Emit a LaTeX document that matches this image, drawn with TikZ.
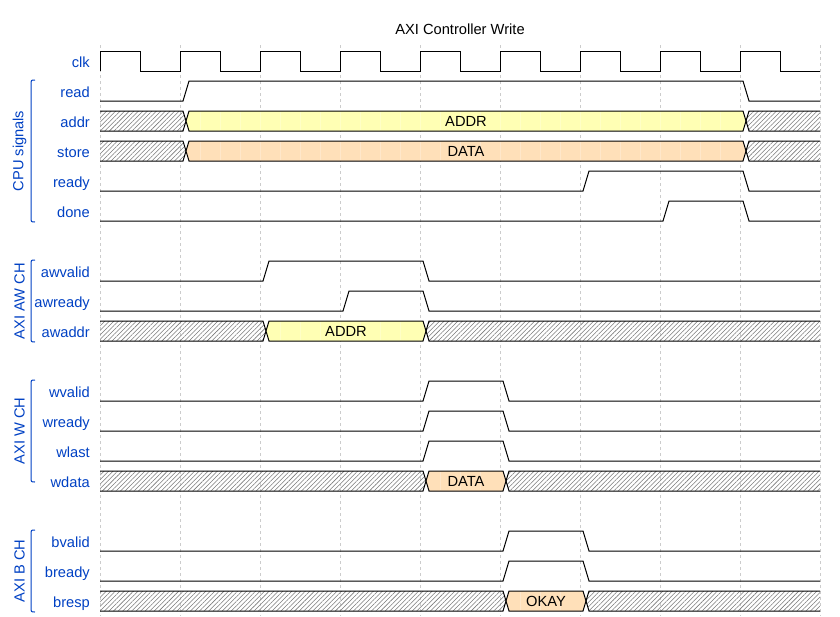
\documentclass[tikz,border=0pt]{standalone}
\usepackage{fontspec}
\setmainfont{Liberation Sans}
\usetikzlibrary{patterns.meta}
\definecolor{lbl}{HTML}{0041C4}
\definecolor{dyel}{HTML}{FFFFB4}
\definecolor{dora}{HTML}{FFE0B9}
\definecolor{gridc}{HTML}{CCCCCC}
\definecolor{hatchc}{HTML}{7A7A7A}
\tikzset{
  sig/.style={line width=1pt},
  lab/.style={anchor=base east, text=lbl, inner sep=0pt},
  grplab/.style={text=lbl, rotate=90, inner sep=0pt},
  brk/.style={draw=lbl, line width=1pt},
  gridl/.style={draw=gridc, dash pattern=on 3pt off 3pt, line width=0.8pt},
  hatchbus/.style={pattern={Lines[angle=45,distance=3.2pt,line width=0.55pt]}, pattern color=hatchc},
  dtxt/.style={anchor=base, inner sep=0pt},
  seam/.style={draw=white, opacity=0.25, line width=0.8pt}
}
% bus row: #1 top y, #2 start edge, #3 end edge, #4 fill colour, #5 text, #6 node name
\newcommand\busrow[6]{%
  \begin{scope}[shift={(0,#1)}]
    \pgfmathsetmacro\bxa{#2+3}\pgfmathsetmacro\bxb{#2+6}\pgfmathsetmacro\bxc{#2+9}%
    \pgfmathsetmacro\bya{#3+3}\pgfmathsetmacro\byb{#3+6}\pgfmathsetmacro\byc{#3+9}%
    \pgfmathsetmacro\bsa{#2+20}\pgfmathsetmacro\bsb{#2+40}\pgfmathsetmacro\bse{#3-20}%
    \pgfmathsetmacro\bmid{(#2+#3)/2+6}%
    \fill[hatchbus] (100,0) -- (\bxa,0) -- (\bxb,10) -- (\bxa,20) -- (100,20) -- cycle;
    \draw[sig] (100,0) -- (\bxa,0) -- (\bxb,10) -- (\bxa,20) -- (100,20);
    \fill[#4] (\bxc,0) -- (\bya,0) -- (\byb,10) -- (\bya,20) -- (\bxc,20) -- (\bxb,10) -- cycle;
    \foreach \sx in {\bsa,\bsb,...,\bse} { \draw[seam] (\sx,1) -- (\sx,19); }
    \draw[sig] (\bxc,0) -- (\bya,0) -- (\byb,10) -- (\bya,20) -- (\bxc,20) -- (\bxb,10) -- cycle;
    \fill[hatchbus] (820,0) -- (\byc,0) -- (\byb,10) -- (\byc,20) -- (820,20) -- cycle;
    \draw[sig] (820,0) -- (\byc,0) -- (\byb,10) -- (\byc,20) -- (820,20);
    \node[dtxt] (#6) at (\bmid,15.5) {#5};
  \end{scope}}
% pulse row: #1 top y, #2 rise edge, #3 fall edge
\newcommand\pulserow[3]{%
  \begin{scope}[shift={(0,#1)}]
    \pgfmathsetmacro\pra{#2+3}\pgfmathsetmacro\prb{#2+9}%
    \pgfmathsetmacro\pfa{#3+3}\pgfmathsetmacro\pfb{#3+9}%
    \draw[sig] (100,20) -- (\pra,20) -- (\prb,0) -- (\pfa,0) -- (\pfb,20) -- (820,20);
  \end{scope}}
% group bracket: #1 top, #2 bottom, #3 text, #4 name
\newcommand\grpbrk[4]{%
  \pgfmathsetmacro\gta{#1+5}\pgfmathsetmacro\gba{#2-5}\pgfmathsetmacro\gmid{(#1+#2)/2}%
  \draw[brk] (35,#1) .. controls (31,#1) .. (31,\gta) -- (31,\gba) .. controls (31,#2) .. (35,#2);
  \node[grplab] (#4) at (19.5,\gmid) {#3};}

\begin{document}
\begin{tikzpicture}[x=1pt,y=-1pt,font=\fontsize{14.67}{17}\selectfont]
\useasboundingbox (0,0) rectangle (840,616);
\fill[white] (0,0) rectangle (840,616);

% grid
\foreach \gx in {100,180,...,820} { \draw[gridl] (\gx,45) -- (\gx,616); }

% title
\node[dtxt] (title) at (460,34.5) {AXI Controller Write};

% labels
\node[lab] (lclk) at (90,67) {clk};
\node[lab] (lread) at (90,97) {read};
\node[lab] (laddr) at (90,127) {addr};
\node[lab] (lstore) at (90,157) {store};
\node[lab] (lready) at (90,187) {ready};
\node[lab] (ldone) at (90,217) {done};
\node[lab] (lawvalid) at (90,277) {awvalid};
\node[lab] (lawready) at (90,307) {awready};
\node[lab] (lawaddr) at (90,337) {awaddr};
\node[lab] (lwvalid) at (90,397) {wvalid};
\node[lab] (lwready) at (90,427) {wready};
\node[lab] (lwlast) at (90,457) {wlast};
\node[lab] (lwdata) at (90,487) {wdata};
\node[lab] (lbvalid) at (90,547) {bvalid};
\node[lab] (lbready) at (90,577) {bready};
\node[lab] (lbresp) at (90,607) {bresp};

% group brackets
\grpbrk{80}{222}{CPU signals}{gcpu}
\grpbrk{260}{342}{AXI AW CH}{gaw}
\grpbrk{380}{482}{AXI W CH}{gw}
\grpbrk{530}{612}{AXI B CH}{gb}

% clk
\draw[sig] (100,71) foreach \k in {0,...,8} { -- ++(0,-20) -- ++(40,0) -- ++(0,20) -- ++(40,0) };

% CPU signals
\pulserow{81}{180}{740}
\busrow{111}{180}{740}{dyel}{ADDR}{daddr}
\busrow{141}{180}{740}{dora}{DATA}{dstore}
\pulserow{171}{580}{740}
\pulserow{201}{660}{740}

% AW channel
\pulserow{261}{260}{420}
\pulserow{291}{340}{420}
\busrow{321}{260}{420}{dyel}{ADDR}{dawaddr}

% W channel
\pulserow{381}{420}{500}
\pulserow{411}{420}{500}
\pulserow{441}{420}{500}
\busrow{471}{420}{500}{dora}{DATA}{dwdata}

% B channel
\pulserow{531}{500}{580}
\pulserow{561}{500}{580}
\busrow{591}{500}{580}{dora}{OKAY}{dbresp}
\end{tikzpicture}
\end{document}
